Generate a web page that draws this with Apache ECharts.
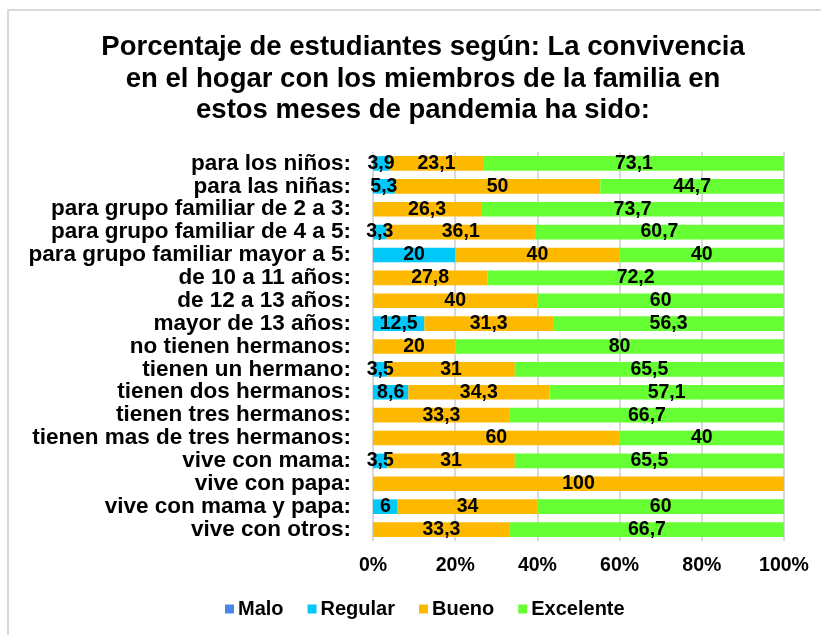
<!DOCTYPE html>
<html>
<head>
<meta charset="utf-8">
<script src="https://cdn.jsdelivr.net/npm/echarts@6/dist/echarts.min.js"></script>
<style>
  html, body { margin: 0; padding: 0; background: #fff; }
  #chart { width: 821px; height: 635px; }
</style>
</head>
<body>
<div id="chart"></div>
<script>
// categorias (de arriba hacia abajo)
const categorias = [
  "para los niños:",
  "para las niñas:",
  "para grupo familiar de 2 a 3:",
  "para grupo familiar de 4 a 5:",
  "para grupo familiar mayor a 5:",
  "de 10 a 11 años:",
  "de 12 a 13 años:",
  "mayor de 13 años:",
  "no tienen hermanos:",
  "tienen un hermano:",
  "tienen dos hermanos:",
  "tienen tres hermanos:",
  "tienen mas de tres hermanos:",
  "vive con mama:",
  "vive con papa:",
  "vive con mama y papa:",
  "vive con otros:"
];
const malo      = [0, 0, 0, 0, 0, 0, 0, 0, 0, 0, 0, 0, 0, 0, 0, 0, 0];
const regular   = [3.9, 5.3, 0, 3.3, 20, 0, 0, 12.5, 0, 3.5, 8.6, 0, 0, 3.5, 0, 6, 0];
const bueno     = [23.1, 50, 26.3, 36.1, 40, 27.8, 40, 31.3, 20, 31, 34.3, 33.3, 60, 31, 100, 34, 33.3];
const excelente = [73.1, 44.7, 73.7, 60.7, 40, 72.2, 60, 56.3, 80, 65.5, 57.1, 66.7, 40, 65.5, 0, 60, 66.7];
const ticks = ["0%", "20%", "40%", "60%", "80%", "100%"];

const fuente = '"Liberation Sans", Arial, sans-serif';

function serie(nombre, datos, color) {
  return {
    name: nombre,
    type: "bar",
    stack: "total",
    barWidth: "64%",
    data: datos,
    itemStyle: { color: color },
    label: {
      show: true,
      position: "inside",
      color: "#000",
      fontFamily: fuente,
      fontWeight: "bold",
      fontSize: 19.5,
      formatter: function (p) {
        return p.value ? String(p.value).replace(".", ",") : "";
      }
    }
  };
}

let myChart = echarts.init(document.getElementById("chart"));
myChart.setOption({
  animation: false,
  textStyle: { fontFamily: fuente },
  graphic: [
    {
      type: "rect",
      shape: { x: 8, y: 10, width: 840, height: 660 },
      style: { fill: "none", stroke: "#d9d9d9", lineWidth: 2 }
    }
  ],
  title: {
    text: "Porcentaje de estudiantes según: La convivencia\nen el hogar con los miembros de la familia en\nestos meses de pandemia ha sido:",
    left: 418,
    textAlign: "center",
    top: 27,
    textStyle: {
      fontFamily: fuente,
      fontWeight: "bold",
      fontSize: 27.5,
      lineHeight: 31.5,
      color: "#000"
    }
  },
  legend: {
    top: 594,
    left: 220,
    itemWidth: 9,
    itemHeight: 9,
    itemGap: 24,
    icon: "rect",
    textStyle: { fontFamily: fuente, fontWeight: "bold", fontSize: 20, color: "#000", padding: [0, 0, 0, -1] },
    data: ["Malo", "Regular", "Bueno", "Excelente"]
  },
  grid: { left: 373, right: 37, top: 152, bottom: 94, containLabel: false },
  xAxis: {
    type: "value",
    min: 0,
    max: 100,
    interval: 20,
    axisLine: { show: false },
    axisTick: { show: false },
    splitLine: { show: true, lineStyle: { color: "#d9d9d9", width: 2 } },
    axisLabel: {
      margin: 15,
      fontFamily: fuente,
      fontWeight: "bold",
      fontSize: 19.5,
      color: "#000",
      formatter: function (v) { return ticks[v / 20]; }
    }
  },
  yAxis: {
    type: "category",
    inverse: true,
    data: categorias,
    axisLine: { show: false },
    axisTick: { show: false },
    axisLabel: {
      interval: 0,
      margin: 22,
      fontFamily: fuente,
      fontWeight: "bold",
      fontSize: 22.5,
      color: "#000"
    }
  },
  series: [
    serie("Malo", malo, "#4a86e8"),
    serie("Regular", regular, "#00c8f8"),
    serie("Bueno", bueno, "#fdb900"),
    serie("Excelente", excelente, "#66ff33")
  ]
});
</script>
</body>
</html>
